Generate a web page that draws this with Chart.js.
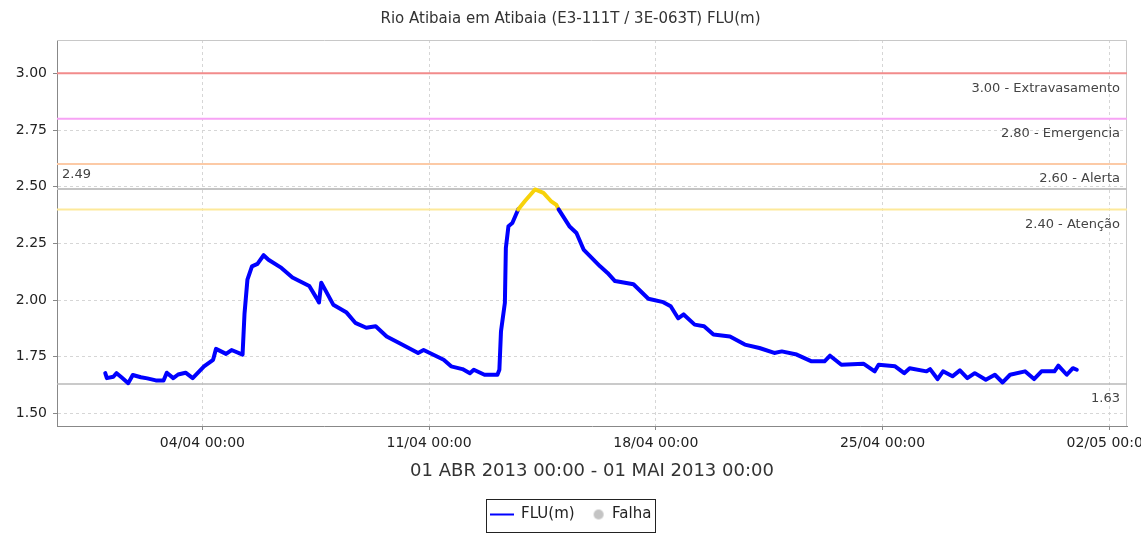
<!DOCTYPE html>
<html>
<head>
<meta charset="utf-8">
<script src="https://cdn.jsdelivr.net/npm/chart.js@4.4.1/dist/chart.umd.min.js"></script>
<style>
  html, body { margin: 0; padding: 0; background: #fff; overflow: hidden; }
  #wrap { width: 1160px; height: 533px; position: relative; }
</style>
</head>
<body>
<div id="wrap"><canvas id="fluChart"></canvas></div>
<script>
// days since 01/04/2013 00:00
const dayOffsets = [
  0.00, 0.05, 0.25, 0.35, 0.50, 0.71, 0.85, 1.10, 1.30, 1.56, 1.80, 1.90, 2.10, 2.25, 2.48, 2.70,
  3.05, 3.33, 3.42, 3.73, 3.90, 4.24, 4.30, 4.39, 4.53, 4.70, 4.89, 5.04, 5.44, 5.78, 6.30, 6.52,
  6.60, 6.67, 7.04, 7.44, 7.72, 8.06, 8.35, 8.69, 9.09, 9.66, 9.83, 10.45, 10.68, 11.03, 11.26, 11.38,
  11.71, 12.11, 12.17, 12.22, 12.34, 12.37, 12.45, 12.57, 12.75, 12.96, 13.27, 13.53, 13.76, 13.93, 14.00, 14.33,
  14.55, 14.77, 15.28, 15.51, 15.74, 16.31, 16.77, 17.23, 17.46, 17.69, 17.86, 18.20, 18.49, 18.78, 19.29, 19.75,
  20.20, 20.66, 20.89, 21.35, 21.81, 22.21, 22.38, 22.73, 23.41, 23.76, 23.88, 24.39, 24.67, 24.84, 25.36, 25.47,
  25.70, 25.87, 26.16, 26.39, 26.62, 26.85, 27.19, 27.47, 27.71, 27.94, 28.40, 28.68, 28.91, 29.31, 29.43, 29.69,
  29.88, 30.00
];
const fluValues = [
  1.678, 1.656, 1.662, 1.678, 1.660, 1.634, 1.670, 1.660, 1.655, 1.646, 1.646, 1.680, 1.656, 1.672, 1.680, 1.656,
  1.708, 1.737, 1.785, 1.763, 1.780, 1.760, 1.940, 2.090, 2.149, 2.160, 2.198, 2.178, 2.142, 2.100, 2.062, 2.010,
  1.990, 2.077, 1.980, 1.947, 1.900, 1.878, 1.885, 1.840, 1.810, 1.767, 1.780, 1.737, 1.708, 1.696, 1.678, 1.693,
  1.671, 1.671, 1.693, 1.863, 1.988, 2.230, 2.326, 2.340, 2.400, 2.437, 2.488, 2.473, 2.437, 2.420, 2.400, 2.326,
  2.296, 2.223, 2.149, 2.120, 2.084, 2.070, 2.006, 1.991, 1.973, 1.920, 1.937, 1.892, 1.885, 1.848, 1.840, 1.804,
  1.789, 1.767, 1.774, 1.760, 1.730, 1.730, 1.755, 1.715, 1.720, 1.686, 1.715, 1.708, 1.678, 1.700, 1.686, 1.696,
  1.652, 1.686, 1.664, 1.690, 1.656, 1.678, 1.649, 1.671, 1.637, 1.671, 1.686, 1.652, 1.686, 1.686, 1.711, 1.671,
  1.700, 1.693
];

const xTickDays = [3, 10, 17, 24, 31];
const xTickLabels = ['04/04 00:00', '11/04 00:00', '18/04 00:00', '25/04 00:00', '02/05 00:00'];
const yTickValues = [1.50, 1.75, 2.00, 2.25, 2.50, 2.75, 3.00];

const levelValues = [3.00, 2.80, 2.60, 2.40];
const levelNames = ['Extravasamento', 'Emergencia', 'Alerta', 'Atenção'];
const maxLevel = 2.49;
const minLevel = 1.63;

const levelColors = ['#f28b8b', '#f7a3f5', '#fccaa6', '#fde99a'];
const attention = levelValues[3];

Chart.defaults.font.family = '"DejaVu Sans", sans-serif';
Chart.defaults.color = '#333';

// small canvases used as legend symbols
function lineIcon() {
  const c = document.createElement('canvas');
  c.width = 24; c.height = 4;
  const g = c.getContext('2d');
  g.fillStyle = '#0000ff';
  g.fillRect(0, 1, 24, 2);
  return c;
}
function dotIcon() {
  const c = document.createElement('canvas');
  c.width = 24; c.height = 12;
  const g = c.getContext('2d');
  g.fillStyle = '#c4c4c4';
  g.beginPath();
  g.arc(18, 6, 5, 0, Math.PI * 2);
  g.fill();
  return c;
}
const legendIcons = [lineIcon(), dotIcon()];

const levelLines = {
  id: 'levelLines',
  beforeDatasetsDraw(chart) {
    const { ctx, chartArea: a, scales: { y } } = chart;
    ctx.save();
    ctx.strokeStyle = '#c8c8c8';
    ctx.lineWidth = 1;
    ctx.beginPath();
    ctx.moveTo(a.left, a.top + 0.5);
    ctx.lineTo(a.right - 0.5, a.top + 0.5);
    ctx.lineTo(a.right - 0.5, a.bottom);
    ctx.stroke();

    const hline = (v, color, w) => {
      const py = y.getPixelForValue(v);
      ctx.strokeStyle = color;
      ctx.lineWidth = w;
      ctx.beginPath();
      ctx.moveTo(a.left, py);
      ctx.lineTo(a.right, py);
      ctx.stroke();
    };
    levelValues.forEach((v, i) => hline(v, levelColors[i], 2));
    hline(maxLevel, '#c4c4c4', 2);
    hline(minLevel, '#b8b8b8', 1.5);
    ctx.restore();
  },
  afterDatasetsDraw(chart) {
    const { ctx, chartArea: a, scales: { y } } = chart;
    ctx.save();
    ctx.font = '13px "DejaVu Sans"';
    ctx.fillStyle = '#444';
    ctx.textBaseline = 'middle';
    ctx.textAlign = 'right';
    levelValues.forEach((v, i) => {
      ctx.fillText(v.toFixed(2) + ' - ' + levelNames[i], a.right - 7, y.getPixelForValue(v) + 15);
    });
    ctx.fillText(minLevel.toFixed(2), a.right - 7, y.getPixelForValue(minLevel) + 15);
    ctx.textAlign = 'left';
    ctx.fillText(maxLevel.toFixed(2), a.left + 5, y.getPixelForValue(maxLevel) - 14);
    ctx.restore();
  },
  afterDraw(chart) {
    const boxes = chart.legend.legendHitBoxes;
    if (!boxes || !boxes.length) return;
    const { ctx } = chart;
    const left = Math.min(...boxes.map(b => b.left)) - 4;
    const right = Math.max(...boxes.map(b => b.left + b.width)) + 3;
    const top = Math.min(...boxes.map(b => b.top)) - 8;
    const bottom = Math.max(...boxes.map(b => b.top + b.height)) + 10;
    ctx.save();
    ctx.strokeStyle = '#222';
    ctx.lineWidth = 1;
    ctx.strokeRect(Math.round(left) + 0.5, Math.round(top) + 0.5, Math.round(right - left), Math.round(bottom - top));
    ctx.restore();
  }
};

new Chart(document.getElementById('fluChart'), {
  type: 'line',
  data: {
    datasets: [
      {
        label: 'FLU(m)',
        data: dayOffsets.map((d, i) => ({ x: d, y: fluValues[i] })),
        borderColor: '#0000ff',
        borderWidth: 4,
        borderJoinStyle: 'round',
        borderCapStyle: 'round',
        pointRadius: 0,
        tension: 0,
        segment: {
          borderColor: c => (c.p0.parsed.y >= attention && c.p1.parsed.y >= attention) ? '#f7d20a' : '#0000ff'
        }
      },
      {
        label: 'Falha',
        data: [],
        borderColor: '#c4c4c4',
        backgroundColor: '#c4c4c4',
        pointStyle: 'circle',
        showLine: false
      }
    ]
  },
  options: {
    responsive: true,
    maintainAspectRatio: false,
    animation: false,
    events: [],
    layout: { padding: { left: 14, right: 33, top: 0, bottom: 1 } },
    plugins: {
      title: {
        display: true,
        text: 'Rio Atibaia em Atibaia (E3-111T / 3E-063T) FLU(m)',
        color: '#333',
        font: { size: 15, weight: 'normal' },
        padding: { top: 10, bottom: 12 }
      },
      legend: {
        position: 'bottom',
        labels: {
          usePointStyle: true,
          pointStyleWidth: 24,
          color: '#222',
          font: { size: 15 },
          padding: 6,
          generateLabels: chart => chart.data.datasets.map((ds, i) => ({
            text: ds.label,
            pointStyle: legendIcons[i],
            fillStyle: ds.borderColor,
            strokeStyle: ds.borderColor,
            lineWidth: 0,
            hidden: false,
            datasetIndex: i,
            fontColor: '#222'
          }))
        }
      },
      tooltip: { enabled: false }
    },
    scales: {
      x: {
        type: 'linear',
        min: -1.49,
        max: 31.55,
        afterBuildTicks: s => { s.ticks = xTickDays.map(v => ({ value: v })); },
        afterFit: s => { s.height = 75; },
        ticks: {
          autoSkip: false,
          maxRotation: 0,
          padding: 5,
          color: '#222',
          font: { size: 14 },
          callback: v => xTickLabels[xTickDays.indexOf(v)]
        },
        grid: { color: '#d6d6d6', tickColor: '#888', tickLength: 4 },
        border: { color: '#888', dash: [3, 3] },
        title: {
          display: true,
          text: '01 ABR 2013 00:00 - 01 MAI 2013 00:00',
          color: '#333',
          font: { size: 18 },
          padding: { top: 4, bottom: 19 }
        }
      },
      y: {
        min: 1.445,
        max: 3.147,
        afterBuildTicks: s => { s.ticks = yTickValues.map(v => ({ value: v })); },
        afterFit: s => { s.width = 43; },
        ticks: {
          padding: 6,
          color: '#222',
          font: { size: 14 },
          callback: v => v.toFixed(2)
        },
        grid: { color: '#d6d6d6', tickColor: '#888', tickLength: 4 },
        border: { color: '#888', dash: [3, 3] }
      }
    }
  },
  plugins: [levelLines]
});
</script>
</body>
</html>
